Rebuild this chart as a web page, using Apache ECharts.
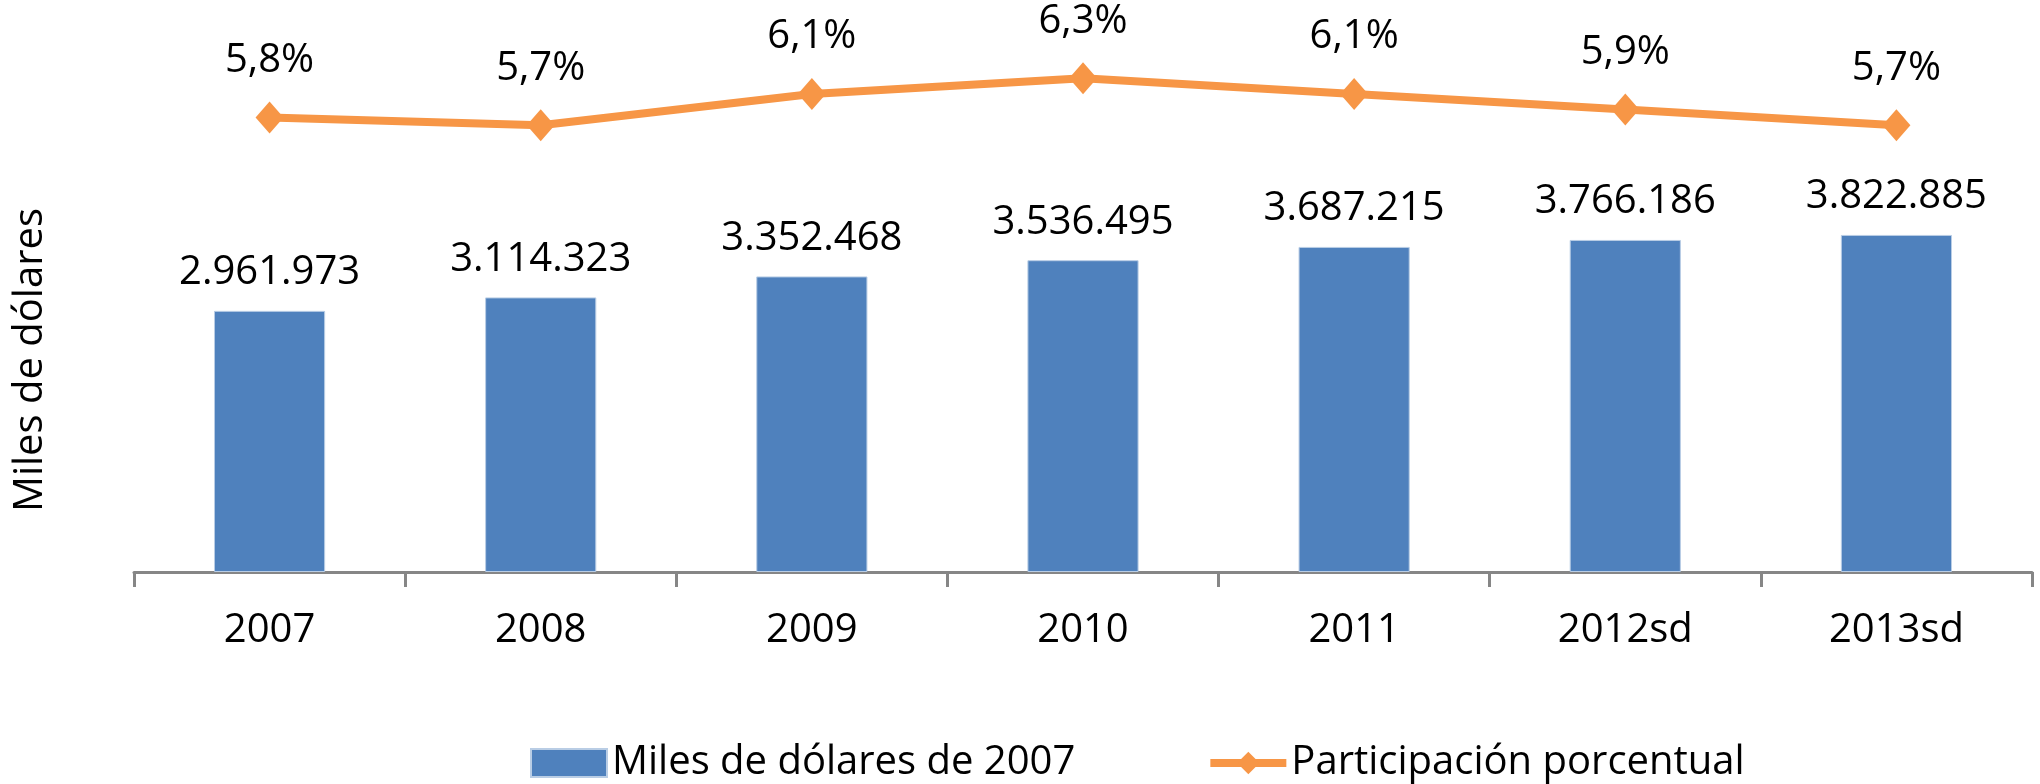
<!DOCTYPE html>
<html>
<head>
<meta charset="utf-8">
<script src="https://cdn.jsdelivr.net/npm/echarts@6/dist/echarts.min.js"></script>
<style>
html, body { margin: 0; padding: 0; background: #fff; }
#main { width: 2040px; height: 784px; }
</style>
</head>
<body>
<div id="main"></div>
<script>
var years = ['2007', '2008', '2009', '2010', '2011', '2012sd', '2013sd'];
var miles = [2961973, 3114323, 3352468, 3536495, 3687215, 3766186, 3822885];
var participacion = [5.8, 5.7, 6.1, 6.3, 6.1, 5.9, 5.7];

var font = 'Open Sans';
function fmtMiles(v) {
	return String(v).replace(/\B(?=(\d{3})+(?!\d))/g, '.');
}

var chart = echarts.init(document.getElementById('main'));
var option = {
	backgroundColor: '#fff',
	animation: false,
	textStyle: { fontFamily: font, color: '#000' },
	grid: { left: 134, right: 8, top: 43, bottom: 212 },
	graphic: [{
		type: 'text',
		x: 31, y: 360,
		rotation: Math.PI / 2,
		style: {
			text: 'Miles de dólares',
			fontSize: 40, fontFamily: font, fill: '#000',
			align: 'center', verticalAlign: 'middle'
		}
	}],
	legend: {
		bottom: 1,
		left: 530,
		padding: 0,
		itemGap: 131,
		itemWidth: 76,
		itemHeight: 28,
		textStyle: { fontSize: 40, color: '#000', fontFamily: font },
		data: [
			{ name: 'Miles de dólares de 2007', icon: 'rect' },
			{ name: 'Participación porcentual', lineStyle: { width: 8 } }
		]
	},
	xAxis: {
		type: 'category',
		data: years,
		axisLine: { lineStyle: { color: '#868686', width: 3 } },
		axisTick: { show: true, length: 15, lineStyle: { color: '#868686', width: 3 } },
		axisLabel: { fontSize: 40, color: '#000', margin: 39, fontFamily: font }
	},
	yAxis: [
		{ type: 'value', min: 0, max: 6000000, show: false, splitLine: { show: false } },
		{ type: 'value', min: 0, max: 6.75, show: false, splitLine: { show: false } }
	],
	series: [
		{
			name: 'Miles de dólares de 2007',
			type: 'bar',
			data: miles,
			barWidth: '41%',
			itemStyle: { color: '#4F81BD', borderColor: '#B9CDE5', borderWidth: 1 },
			label: {
				show: true, position: 'top', distance: 18,
				fontSize: 40, color: '#000', fontFamily: font,
				formatter: function (p) { return fmtMiles(p.value); }
			}
		},
		{
			name: 'Participación porcentual',
			type: 'line',
			yAxisIndex: 1,
			data: participacion,
			symbol: 'diamond',
			symbolSize: [28, 32],
			lineStyle: { color: '#F79646', width: 8 },
			itemStyle: { color: '#F79646' },
			label: {
				show: true, position: 'top', distance: 21,
				fontSize: 40, color: '#000', fontFamily: font,
				formatter: function (p) { return p.value.toFixed(1).replace('.', ',') + '%'; }
			}
		}
	]
};
chart.setOption(option);
</script>
</body>
</html>
